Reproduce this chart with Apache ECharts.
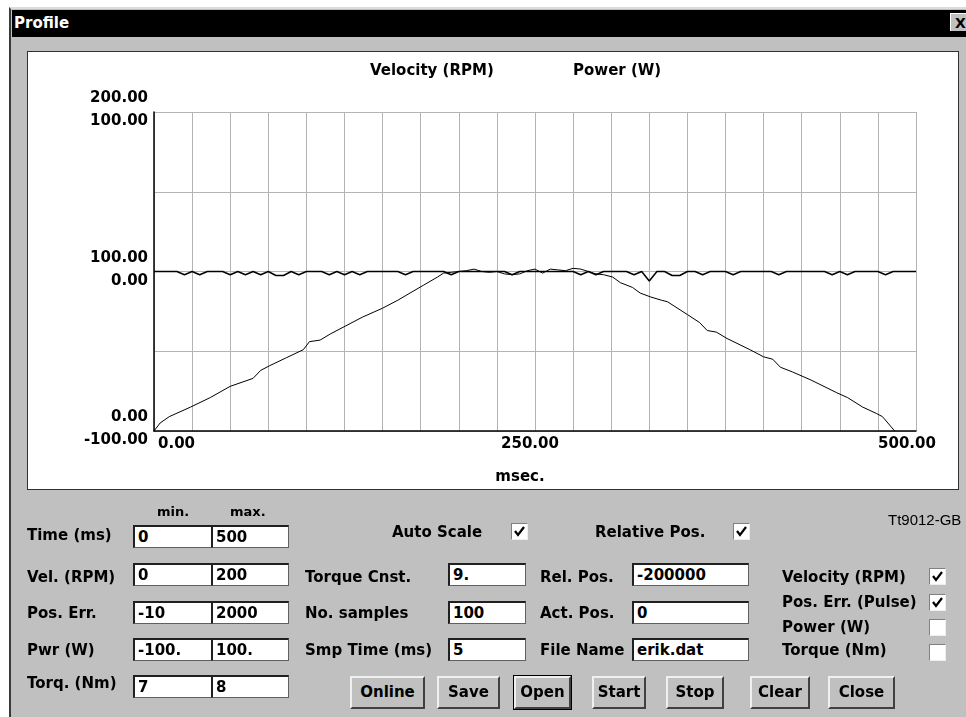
<!DOCTYPE html>
<html>
<head>
<meta charset="utf-8">
<script src="https://cdn.jsdelivr.net/npm/echarts@6/dist/echarts.min.js"></script>
<style>
  body { margin: 0; width: 966px; height: 717px; overflow: hidden; background: #fff; position: relative;
         font-family: "DejaVu Sans", sans-serif; font-weight: bold; font-size: 15px; color: #000; }
  .abs { position: absolute; }
  #dlg { left: 9px; top: 7px; width: 990px; height: 720px; background: #c0c0c0;
         border-left: 2px solid #3a3a3a; border-top: 2px solid #dcdcdc; box-sizing: border-box; }
  #titlebar { left: 12px; top: 10px; width: 960px; height: 27px; background: #000; color: #fff; }
  #titlebar span { position: absolute; left: 2px; top: 4px; font-size: 15px; }
  #xbtn { left: 950px; top: 13px; width: 18px; height: 18px; background: #c0c0c0; color: #000;
          border-top: 1px solid #fff; border-left: 1px solid #fff; font-size: 14px; line-height: 18px; padding-left: 4px; box-sizing: border-box; }
  #panel { left: 27px; top: 51px; width: 932px; height: 439px; background: #fff;
           border: 1px solid #303030; box-sizing: border-box; }
  #chart { left: 0; top: 0; width: 966px; height: 717px; }
  .lbl { position: absolute; white-space: nowrap; line-height: 18px; }
  .box { position: absolute; background: #fff; box-sizing: border-box;
         border-top: 2px solid #202020; border-left: 2px solid #202020; border-right: 1px solid #606060; border-bottom: 1px solid #606060;
         height: 23px; line-height: 20px; padding-left: 3px; white-space: nowrap; }
  .chk { position: absolute; width: 17px; height: 17px; background: #fff; box-sizing: border-box;
         border-top: 1px solid #808080; border-left: 1px solid #808080; border-right: 1px solid #eee; border-bottom: 1px solid #eee; }
  .btn { position: absolute; top: 676px; height: 33px; background: #c0c0c0; box-sizing: border-box;
         border-top: 2px solid #f0f0f0; border-left: 2px solid #f0f0f0; border-right: 2px solid #404040; border-bottom: 2px solid #404040;
         text-align: center; line-height: 28px; }
  .def { outline: 1px solid #000; }
</style>
</head>
<body>
<div id="dlg" class="abs"></div>
<div id="titlebar" class="abs"><span>Profile</span></div>
<div id="xbtn" class="abs">X</div>
<div id="panel" class="abs"></div>
<div id="chart" class="abs"></div>
<div id="ctrls"></div>
<script>
// axis ranges and tick labels
var timeMin = 0, timeMax = 500, timeStep = 25;
var timeTicks = [0, 250, 500];
var velTicks = [0, 100, 200];
var pwrTicks = [-100, 0, 100];
var smpTime = 5;

// velocity (RPM)
var velTime = [0, 4, 10, 24, 37, 50, 65, 70, 76, 87,
  98, 102, 109, 116, 124, 137, 150, 160, 168, 177,
  186, 190, 195, 200, 205, 210, 215, 220, 225, 230,
  235, 240, 245, 250, 255, 260, 265, 270, 275, 280,
  285, 290, 295, 301, 306, 314, 319, 326, 333, 337,
  350, 358, 363, 369, 376, 391, 400, 406, 411, 419,
  431, 448, 455, 465, 474, 478, 486];
var velRpm = [0, 5, 9, 15, 21, 28, 33, 38, 41, 46,
  51, 56, 57, 61, 65, 71.5, 77, 82, 86.5, 91.5,
  96.5, 99, 99.5, 100, 100.5, 101.5, 100, 99.5, 100, 98.5,
  98, 98.5, 100.5, 101.5, 99, 101.5, 101, 100.5, 102, 101.5,
  100, 98.5, 98, 96.5, 93, 90, 86.5, 84, 82, 81,
  73, 68, 63, 62, 58, 51, 46.5, 45, 40, 37,
  32, 24, 21, 15, 11, 9, 0];

// position error, one value per 5 ms sample
var posErr = [0, 0, 0, 0, -2, 0, -2, 0, 0, 0,
  -2, 0, -2, 0, -2, 0, -2.5, -2.5, 0, -2,
  0, 0, 0, -2, 0, -2, 0, -2, 0, 0,
  0, 0, 0, -2, 0, 0, 0, 0, 0, -2,
  0, 0, 0, 0, 0, 0, 0, -2, 0, 0,
  0, 0, 0, 0, 0, 0, -2, 0, -2, 0,
  0, 0, 0, -2, 0, -6, 0, 0, -2.5, -2.5,
  0, 0, -2, 0, 0, 0, -2, 0, 0, 0,
  0, 0, -2, 0, 0, 0, 0, 0, 0, -2,
  0, -2, 0, 0, 0, 0, -2, 0, 0, 0,
  0];

// dialog controls
var labels = [
  ["min.", 157, 512, 13], ["max.", 230, 512, 13],
  ["Time (ms)", 27, 535], ["Vel. (RPM)", 27, 577], ["Pos. Err.", 27, 613], ["Pwr (W)", 27, 650], ["Torq. (Nm)", 27, 683],
  ["Torque Cnst.", 305, 577], ["No. samples", 305, 613], ["Smp Time (ms)", 305, 650],
  ["Auto Scale", 392, 532], ["Relative Pos.", 595, 532],
  ["Rel. Pos.", 540, 577], ["Act. Pos.", 540, 613], ["File Name", 540, 650],
  ["Velocity (RPM)", 782, 577], ["Pos. Err. (Pulse)", 782, 602], ["Power (W)", 782, 627], ["Torque (Nm)", 782, 650]
];
var rowTops = [525, 563, 601, 638, 675];
var minVals = ["0", "0", "-10", "-100.", "7"];
var maxVals = ["500", "200", "2000", "100.", "8"];
var midVals = ["9.", "100", "5"];
var rightVals = ["-200000", "0", "erik.dat"];
var checks = [[511, 523, true], [733, 523, true], [929, 568, true], [929, 594, true], [929, 619, false], [929, 644, false]];
var buttons = [["Online", 350, 75], ["Save", 437, 63], ["Open", 514, 57], ["Start", 592, 54],
  ["Stop", 666, 58], ["Clear", 750, 60], ["Close", 828, 67]];

var html = "";
labels.forEach(function (l) {
  var fs = l[3] || 15;
  html += '<div class="lbl" style="left:' + l[1] + 'px;top:' + (l[2] - 9) + 'px;font-size:' + fs + 'px">' + l[0] + '</div>';
});
rowTops.forEach(function (t, i) {
  html += '<div class="box" style="left:133px;top:' + t + 'px;width:79px">' + minVals[i] + '</div>';
  html += '<div class="box" style="left:211px;top:' + t + 'px;width:78px">' + maxVals[i] + '</div>';
});
midVals.forEach(function (v, i) {
  html += '<div class="box" style="left:448px;top:' + rowTops[i + 1] + 'px;width:78px">' + v + '</div>';
  html += '<div class="box" style="left:632px;top:' + rowTops[i + 1] + 'px;width:117px">' + rightVals[i] + '</div>';
});
checks.forEach(function (c) {
  html += '<div class="chk" style="left:' + c[0] + 'px;top:' + c[1] + 'px">' +
    (c[2] ? '<svg width="15" height="15" style="position:absolute;left:0;top:0"><polyline points="3,7 6,11 12,3" fill="none" stroke="#000" stroke-width="2.2"/></svg>' : '') + '</div>';
});
buttons.forEach(function (b) {
  html += '<div class="btn' + (b[0] === "Open" ? ' def' : '') + '" style="left:' + b[1] + 'px;width:' + b[2] + 'px">' + b[0] + '</div>';
});
html += '<div class="lbl" style="left:888px;top:511px;font-family:\'Liberation Sans\';font-weight:normal;font-size:15px">Tt9012-GB</div>';
document.getElementById("ctrls").innerHTML = html;

var axisFont = { color: "#000", fontFamily: "DejaVu Sans", fontWeight: "bold", fontSize: 15 };
var gridGray = "#b4b4b4";

var chart = echarts.init(document.getElementById("chart"));
chart.setOption({
  animation: false,
  backgroundColor: "transparent",
  title: [
    { text: "Velocity (RPM)", left: 365, top: 59, textStyle: axisFont },
    { text: "Power (W)", left: 568, top: 59, textStyle: axisFont }
  ],
  grid: { left: 154, top: 112, width: 762, height: 319, containLabel: false },
  xAxis: {
    type: "value", min: timeMin, max: timeMax, interval: timeStep,
    name: "msec.", nameLocation: "middle", nameGap: 39,
    nameTextStyle: Object.assign({ padding: [0, 30, 0, 0] }, axisFont),
    axisLine: { lineStyle: { color: "#000", width: 1.5 } },
    axisTick: { show: false },
    splitLine: { show: true, lineStyle: { color: gridGray, width: 1 } },
    axisLabel: Object.assign({
      margin: 6, alignMinLabel: "left",
      formatter: function (v) {
        if (timeTicks.indexOf(v) < 0) return "";
        var k = v === timeMin ? "lo" : (v === timeMax ? "hi" : "mid");
        return "{" + k + "|" + v.toFixed(2) + "}";
      },
      rich: {
        lo: Object.assign({ padding: [0, 0, 0, 4] }, axisFont),
        mid: Object.assign({ padding: [0, 10, 0, 0] }, axisFont),
        hi: Object.assign({ padding: [0, 18, 0, 0] }, axisFont)
      }
    }, axisFont)
  },
  yAxis: [
    {
      type: "value", position: "left", min: 0, max: 200, interval: 50,
      axisLine: { show: true, lineStyle: { color: "#000", width: 1.5 } },
      axisTick: { show: false },
      splitLine: { show: true, lineStyle: { color: gridGray, width: 1 } },
      axisLabel: Object.assign({
        margin: 6, verticalAlign: "bottom", lineHeight: 27,
        formatter: function (v) { return velTicks.indexOf(v) >= 0 ? v.toFixed(2) : ""; }
      }, axisFont)
    },
    {
      type: "value", position: "left", offset: 0, min: -100, max: 100, interval: 50,
      axisLine: { show: false },
      axisTick: { show: false },
      splitLine: { show: false },
      axisLabel: Object.assign({
        margin: 6, verticalAlign: "top", lineHeight: 19,
        formatter: function (v) { return pwrTicks.indexOf(v) >= 0 ? v.toFixed(2) : ""; }
      }, axisFont)
    }
  ],
  series: [
    {
      name: "Pos. Err. (Pulse)", type: "line", yAxisIndex: 1, symbol: "none",
      lineStyle: { color: "#000", width: 1.5 },
      data: posErr.map(function (v, i) { return [i * smpTime, v]; })
    },
    {
      name: "Velocity (RPM)", type: "line", yAxisIndex: 0, symbol: "none",
      lineStyle: { color: "#000", width: 1 },
      data: velTime.map(function (t, i) { return [t, velRpm[i]]; })
    }
  ]
});
</script>
</body>
</html>
